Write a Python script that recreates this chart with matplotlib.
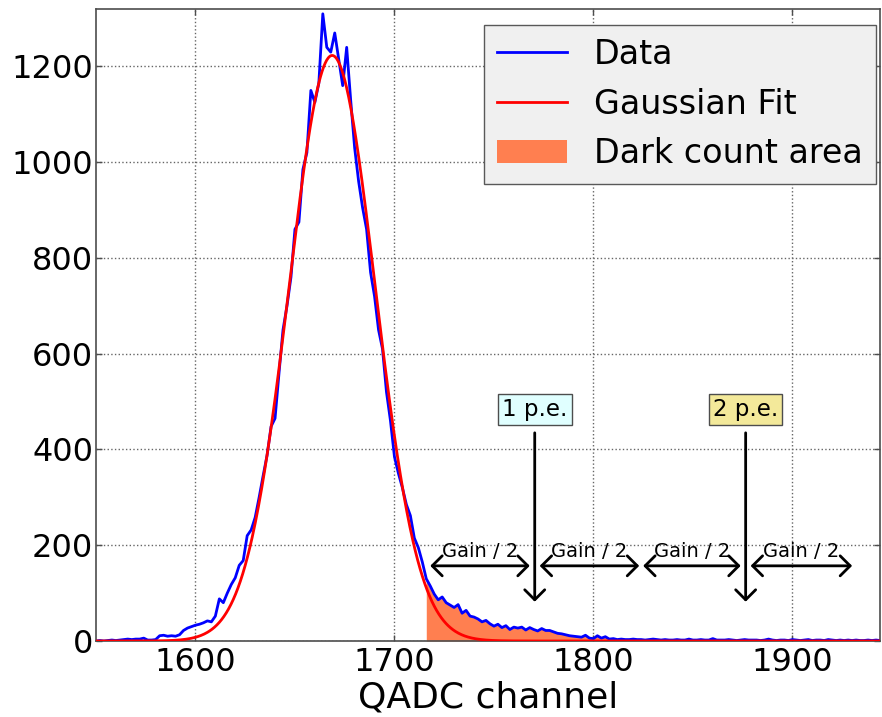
import numpy as np
import matplotlib
matplotlib.use("Agg")
import matplotlib.pyplot as plt

# QADC spectrum, 2-channel bins
counts = [
    0, 1, 0, 1, 2, 1, 2, 3, 4, 3,
    4, 4, 6, 2, 2, 3, 11, 12, 10, 11,
    10, 13, 22, 27, 30, 33, 35, 38, 42, 40,
    52, 88, 80, 100, 118, 132, 158, 168, 220, 232,
    258, 300, 345, 388, 448, 465, 560, 650, 700, 760,
    860, 875, 985, 1020, 1150, 1125, 1165, 1310, 1240, 1230,
    1270, 1215, 1160, 1240, 1130, 1030, 960, 905, 860, 770,
    720, 650, 610, 520, 460, 385, 350, 320, 285, 262,
    215, 195, 165, 130, 115, 98, 86, 92, 80, 75,
    70, 76, 58, 64, 52, 50, 46, 40, 43, 36,
    31, 35, 28, 32, 24, 29, 27, 29, 23, 28,
    24, 21, 26, 22, 22, 19, 16, 15, 13, 11,
    10, 9, 8, 12, 6, 5, 11, 6, 9, 4,
    5, 3, 4, 3, 3, 4, 3, 3, 2, 3,
    4, 3, 2, 3, 2, 2, 3, 2, 2, 4,
    2, 2, 3, 2, 2, 5, 2, 2, 2, 3,
    2, 1, 2, 3, 2, 2, 2, 1, 2, 4,
    2, 1, 2, 2, 1, 3, 2, 1, 2, 3,
    1, 2, 2, 1, 3, 2, 1, 2, 1, 2,
    1, 2, 1, 1, 2, 1, 2, 1,
]
first_channel = 1550
channel = np.arange(first_channel, first_channel + 2 * len(counts), 2)
counts = np.array(counts, dtype=float)

# gaussian fit parameters (pedestal)
gauss_amp = 1223.0
gauss_mean = 1668.7
gauss_sigma = 21.6

dark_threshold = 1716        # pedestal + gain/2
pe_labels = ["1 p.e.", "2 p.e."]
pe_positions = [1770.5, 1876.5]
pe_colors = ["#e0ffff", "#f3e99a"]
gain_half_segments = [(1718, 1768), (1773, 1823), (1825, 1874), (1879, 1930)]

fig = plt.figure(figsize=(8.82, 7.17), dpi=100)
ax = fig.add_axes([0.1088, 0.106, 0.8889, 0.8814])

mask = channel >= dark_threshold
ax.fill_between(channel[mask], counts[mask], 0, color="coral", lw=0,
                label="Dark count area", zorder=1)
ax.plot(channel, counts, color="blue", lw=2, label="Data", zorder=2)

x_fit = np.linspace(channel[0], channel[-1], 1000)
y_fit = gauss_amp * np.exp(-0.5 * ((x_fit - gauss_mean) / gauss_sigma) ** 2)
ax.plot(x_fit, y_fit, color="red", lw=2, label="Gaussian Fit", zorder=3)

# p.e. markers
for lab, xp, fc in zip(pe_labels, pe_positions, pe_colors):
    ax.annotate(lab, xy=(xp, 82), xytext=(xp, 483), ha="center", va="center",
                fontsize=16.5,
                bbox=dict(boxstyle="square,pad=0.18", fc=fc, ec="0.3", lw=1),
                arrowprops=dict(arrowstyle="->,head_length=0.72,head_width=0.72",
                                color="black", lw=2, shrinkA=5, shrinkB=0,
                                mutation_scale=10))

for x1, x2 in gain_half_segments:
    ax.annotate("", xy=(x2, 157), xytext=(x1, 157),
                arrowprops=dict(arrowstyle="<->,head_length=0.72,head_width=0.72",
                                color="black", lw=2, shrinkA=0, shrinkB=0,
                                mutation_scale=10))
    ax.text((x1 + x2) / 2, 186, "Gain / 2", ha="center", va="center", fontsize=14)

ax.set_xlim(1550, 1944)
ax.set_ylim(0, 1320)
ax.set_xticks([1600, 1700, 1800, 1900])
ax.set_yticks(range(0, 1201, 200))
ax.tick_params(direction="in", top=True, right=True, length=4, width=1,
               labelsize=23, color="0.3")
ax.tick_params(axis="y", pad=2)
ax.tick_params(axis="x", pad=4)
for s in ax.spines.values():
    s.set_color("0.3")
    s.set_linewidth(1.2)
ax.grid(True, linestyle=":", color="0.4", lw=1)
ax.set_axisbelow(True)
ax.set_xlabel("QADC channel", fontsize=26, labelpad=2)

handles, labels = ax.get_legend_handles_labels()
order = [labels.index(l) for l in ["Data", "Gaussian Fit", "Dark count area"]]
leg = ax.legend([handles[i] for i in order], [labels[i] for i in order],
                loc="upper right", bbox_to_anchor=(0.995, 0.975), borderaxespad=0,
                fontsize=24, fancybox=False, framealpha=1, facecolor="#f0f0f0",
                edgecolor="0.35", handlelength=2.1, handletextpad=0.8,
                labelspacing=0.5, borderpad=0.4)
leg.get_frame().set_linewidth(1)

fig.savefig("out.png", dpi=100, facecolor="white")
